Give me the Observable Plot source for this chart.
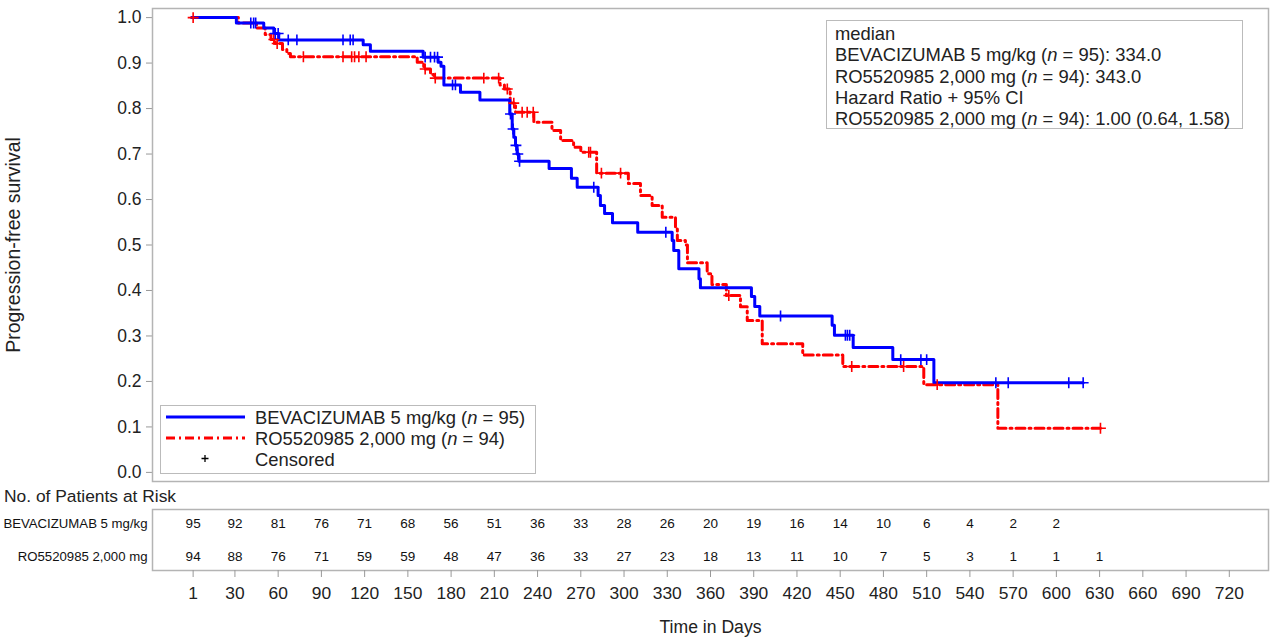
<!DOCTYPE html>
<html>
<head>
<meta charset="utf-8">
<script src="https://cdn.jsdelivr.net/npm/d3@7"></script>
<script src="https://cdn.jsdelivr.net/npm/@observablehq/plot@0.6"></script>
<style>
  body { margin: 0; background: #fff; font-family: "Liberation Sans", Arial, sans-serif; }
  #wrap { position: relative; width: 1270px; height: 637px; overflow: hidden; background: #fff; }
  #wrap svg { display: block; }
  .box { position: absolute; border: 1.5px solid #bbb; background: #fff; color: #222; font-size: 18.4px; box-sizing: border-box; }
  .ann div { height: 21.3px; line-height: 21.3px; white-space: nowrap; }
  .leg .row { position: absolute; left: 0; height: 21px; line-height: 21px; white-space: nowrap; }
  .leg svg { position: absolute; }
  #riskTitle { position: absolute; left: 4px; top: 486px; font-size: 17.4px; line-height: 20px; color: #222; white-space: nowrap; }
</style>
</head>
<body>
<div id="wrap"></div>
<script>
// ---------- data ----------
const armLabels = ["BEVACIZUMAB 5 mg/kg", "RO5520985 2,000 mg"];

// Kaplan-Meier step changes (time in days, survival after the event)
const bevTimes = [0, 31, 50, 57, 60.4, 119, 124, 160.6, 171, 173, 175, 186.5, 200, 220.7, 222.4, 223.5, 224.7, 225.8, 227, 248, 263.5, 267.5, 282, 283.6, 286.5, 292, 309.5, 333.4, 334.5, 338, 352, 353, 388.4, 390.7, 394.2, 444.4, 446, 459, 486.5, 515];
const bevSurv  = [1.0, 0.988, 0.977, 0.965, 0.951, 0.9405, 0.926, 0.913, 0.902, 0.893, 0.852, 0.836, 0.819, 0.788, 0.755, 0.737, 0.719, 0.700, 0.684, 0.668, 0.647, 0.627, 0.609, 0.587, 0.569, 0.549, 0.528, 0.510, 0.488, 0.448, 0.426, 0.406, 0.387, 0.365, 0.344, 0.3235, 0.3015, 0.2745, 0.248, 0.197];
const bevCensored = [41, 43, 44.4, 58, 60, 67, 73, 105, 110, 112, 162, 165.7, 168.5, 170.6, 181, 183, 221.2, 223, 225, 226.3, 227.5, 279, 329, 408.6, 453.6, 455, 456.6, 492, 506, 510, 558, 566.6, 608.6, 618.6];

const roTimes = [0, 32.4, 45, 51, 55, 58, 63, 66, 68.5, 156.5, 161, 165.7, 168, 214, 217, 221, 224.7, 237.4, 250, 256, 265, 270, 281, 303, 311.4, 319.5, 326.5, 335.7, 337, 342.6, 344, 357.7, 361, 371, 380.8, 385.5, 395.9, 424, 451.8, 508, 559.4];
const roSurv  = [1.0, 0.988, 0.977, 0.963, 0.952, 0.943, 0.930, 0.921, 0.914, 0.902, 0.887, 0.875, 0.867, 0.852, 0.843, 0.812, 0.792, 0.770, 0.752, 0.730, 0.715, 0.704, 0.658, 0.635, 0.609, 0.587, 0.561, 0.539, 0.510, 0.500, 0.461, 0.437, 0.413, 0.389, 0.364, 0.334, 0.283, 0.258, 0.233, 0.193, 0.097];
const roCensored = [1, 57, 59.3, 77.5, 105, 111, 113, 116, 121, 162, 169, 202.7, 213, 219, 223.5, 229.3, 232.8, 237, 275.5, 276.7, 284.3, 297.6, 372.7, 458, 494, 517.3, 630.6];

// Patients at risk
const riskTimes = [1, 30, 60, 90, 120, 150, 180, 210, 240, 270, 300, 330, 360, 390, 420, 450, 480, 510, 540, 570, 600, 630];
const bevRisk = [95, 92, 81, 76, 71, 68, 56, 51, 36, 33, 28, 26, 20, 19, 16, 14, 10, 6, 4, 2, 2];
const roRisk  = [94, 88, 76, 71, 59, 59, 48, 47, 36, 33, 27, 23, 18, 13, 11, 10, 7, 5, 3, 1, 1, 1];

const xTicks = [1, 30, 60, 90, 120, 150, 180, 210, 240, 270, 300, 330, 360, 390, 420, 450, 480, 510, 540, 570, 600, 630, 660, 690, 720];
const yTicks = [0, 0.1, 0.2, 0.3, 0.4, 0.5, 0.6, 0.7, 0.8, 0.9, 1.0];

const annotationLines = [
  "median",
  "BEVACIZUMAB 5 mg/kg (<i>n</i> = 95): 334.0",
  "RO5520985 2,000 mg (<i>n</i> = 94): 343.0",
  "Hazard Ratio + 95% CI",
  "RO5520985 2,000 mg (<i>n</i> = 94): 1.00 (0.64, 1.58)"
];
const legendLabels = ["BEVACIZUMAB 5 mg/kg (<i>n</i> = 95)", "RO5520985 2,000 mg (<i>n</i> = 94)", "Censored"];

const BLUE = "#0000ff", RED = "#ff0000";
const DASH = "9,4,2,4";

// ---------- build tables ----------
function curve(times, surv, cens) {
  const pts = times.map((t, i) => ({t, s: surv[i]}));
  const end = d3.max(cens);
  if (end > times[times.length - 1]) pts.push({t: end, s: surv[surv.length - 1]});
  return pts;
}
function censorPts(times, surv, cens) {
  return cens.map(t => ({t, s: surv[Math.max(0, d3.bisectRight(times, t) - 1)]}));
}
const bevLine = curve(bevTimes, bevSurv, bevCensored);
const roLine = curve(roTimes, roSurv, roCensored);
const bevCens = censorPts(bevTimes, bevSurv, bevCensored);
const roCens = censorPts(roTimes, roSurv, roCensored);

const riskRows = [
  ...bevRisk.map((n, i) => ({t: riskTimes[i], g: armLabels[0], n})),
  ...roRisk.map((n, i) => ({t: riskTimes[i], g: armLabels[1], n}))
];

const xDomain = [-27.2, 747.2];
const FONT = "'Liberation Sans', Arial, sans-serif";

// ---------- main KM plot ----------
const main = Plot.plot({
  width: 1270, height: 485,
  marginTop: 8, marginBottom: 4, marginLeft: 152, marginRight: 2,
  style: {fontFamily: FONT, fontSize: "17px", color: "#222", background: "white"},
  x: {domain: xDomain, axis: null},
  y: {domain: [-0.02, 1.02]},
  marks: [
    Plot.axisY({ticks: yTicks, tickFormat: d3.format(".1f"), tickSize: 6, tickPadding: 5, stroke: "#999", fill: "#222",
      fontSize: 17.5, label: "Progression-free survival", labelAnchor: "center", labelArrow: "none", labelOffset: 146}),
    Plot.frame({stroke: "#b4b4b4", strokeWidth: 1.5}),
    Plot.line(roLine, {x: "t", y: "s", curve: "step-after", stroke: RED, strokeWidth: 3, strokeDasharray: DASH}),
    Plot.line(bevLine, {x: "t", y: "s", curve: "step-after", stroke: BLUE, strokeWidth: 3}),
    Plot.dot(roCens, {x: "t", y: "s", symbol: "plus", r: 3.6, stroke: RED, strokeWidth: 1.6}),
    Plot.dot(bevCens, {x: "t", y: "s", symbol: "plus", r: 3.6, stroke: BLUE, strokeWidth: 1.6})
  ]
});
main.querySelectorAll("g[aria-label='y-axis label'] text").forEach(t => t.setAttribute("font-size", "19.5"));

// ---------- at-risk table + x axis ----------
const risk = Plot.plot({
  width: 1270, height: 152,
  marginTop: 24, marginBottom: 67, marginLeft: 152, marginRight: 2,
  style: {fontFamily: FONT, fontSize: "17px", color: "#222", background: "white"},
  x: {domain: xDomain},
  y: {domain: armLabels, type: "point", padding: 0.4},
  marks: [
    Plot.frame({stroke: "#b4b4b4", strokeWidth: 1.5}),
    Plot.axisY({tickSize: 0, tickPadding: 5, fontSize: 13.2, label: null, fill: "#111"}),
    Plot.axisX({ticks: xTicks, tickSize: 7, tickPadding: 9, stroke: "#999", fill: "#222", fontSize: 17.4,
      label: "Time in Days", labelAnchor: "center", labelArrow: "none", labelOffset: 62}),
    Plot.text(riskRows, {x: "t", y: "g", text: "n", fontSize: 13.5, fill: "#111"})
  ]
});
risk.querySelectorAll("g[aria-label='x-axis label'] text").forEach(t => t.setAttribute("font-size", "17.6"));

const wrap = document.getElementById("wrap");
wrap.appendChild(main);
wrap.appendChild(risk);

// annotation box (top right)
const ann = document.createElement("div");
ann.className = "box ann";
Object.assign(ann.style, {left: "826px", top: "20px", width: "417px", height: "109px", padding: "2px 0 0 8px"});
ann.innerHTML = annotationLines.map(s => `<div>${s}</div>`).join("");
wrap.appendChild(ann);

// legend box (bottom left)
const leg = document.createElement("div");
leg.className = "box leg";
Object.assign(leg.style, {left: "160px", top: "405px", width: "376px", height: "69px"});
const rowsY = [1, 22, 43];
let html = "";
legendLabels.forEach((lab, i) => {
  html += `<div class="row" style="top:${rowsY[i]}px;left:94px">${lab}</div>`;
});
html += `<svg width="90" height="69" style="left:0;top:0">
  <line x1="5" x2="84" y1="11" y2="11" stroke="${BLUE}" stroke-width="3"/>
  <line x1="5" x2="84" y1="32" y2="32" stroke="${RED}" stroke-width="3" stroke-dasharray="${DASH}"/>
  <path d="M44,49v7M40.5,52.5h7" stroke="#000" stroke-width="1.3"/>
</svg>`;
leg.innerHTML = html;
wrap.appendChild(leg);

// at-risk title
const rt = document.createElement("div");
rt.id = "riskTitle";
rt.textContent = "No. of Patients at Risk";
wrap.appendChild(rt);
</script>
</body>
</html>
